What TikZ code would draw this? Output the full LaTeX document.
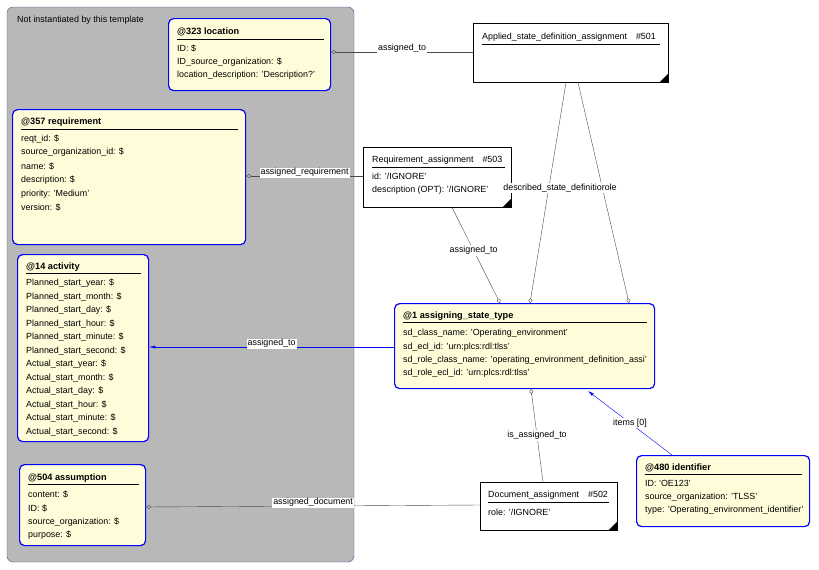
\documentclass[tikz,border=0pt]{standalone}
\usepackage{fontspec}
\setmainfont{Liberation Sans}
\usetikzlibrary{arrows.meta}
\tikzset{
  box/.style={draw=blue, line width=1.2pt, fill=yellow!15, rounded corners=5pt, anchor=north west, inner sep=0pt},
  plain/.style={draw=black, fill=white, anchor=north west, inner sep=0pt},
  txt/.style={anchor=west, inner sep=0pt, font=\fontsize{8.9}{10}\selectfont},
  ttl/.style={txt, font=\fontsize{9.2}{10}\selectfont\bfseries},
  lbl/.style={fill=white, inner sep=1pt, font=\fontsize{8.9}{10}\selectfont},
  link/.style={draw=black!70, {Diamond[open,length=5pt,width=4pt]}-},
  blink/.style={draw=blue, -{Latex[length=6pt,width=3pt]}},
}
\newcommand{\corner}[1]{\fill (#1.south east) -- ++(-9pt,0) -- ++(9pt,9pt) -- cycle;}
\begin{document}
\begin{tikzpicture}[x=1pt,y=-1pt]
\useasboundingbox (0,0) rectangle (819,570);
% panel
\draw[fill=black!28, draw=blue!40!black!70, rounded corners=6pt] (7,7) rectangle (354,562);
\node[txt] at (17,20) {Not instantiated by this template};

% entities
\node[box, minimum width=162pt, minimum height=72pt] (loc) at (168,18) {};
\node[ttl] at (177,32) {@323 location};
\draw (177,39) -- (324,39);
\foreach \t [count=\i] in {ID: \$, ID\_source\_organization: \$, location\_description: 'Description?'}
  \node[txt] at (177,35+13.5*\i) {\t};

\node[box, minimum width=233pt, minimum height=135pt] (req) at (12,109) {};
\node[ttl] at (21,122) {@357 requirement};
\draw (21,129) -- (238,129);
\foreach \t [count=\i] in {reqt\_id: \$, source\_organization\_id: \$, name: \$, description: \$, priority: 'Medium', version: \$}
  \node[txt] at (21,125+13.8*\i) {\t};

\node[box, minimum width=131pt, minimum height=187pt] (act) at (17,254) {};
\node[ttl] at (26,267) {@14 activity};
\draw (26,273) -- (141,273);
\foreach \t [count=\i] in {Planned\_start\_year: \$, Planned\_start\_month: \$, Planned\_start\_day: \$, Planned\_start\_hour: \$, Planned\_start\_minute: \$, Planned\_start\_second: \$, Actual\_start\_year: \$, Actual\_start\_month: \$, Actual\_start\_day: \$, Actual\_start\_hour: \$, Actual\_start\_minute: \$, Actual\_start\_second: \$}
  \node[txt] at (26,270+13.5*\i) {\t};

\node[box, minimum width=126pt, minimum height=81pt] (asm) at (19,464) {};
\node[ttl] at (28,478) {@504 assumption};
\draw (28,484) -- (139,484);
\foreach \t [count=\i] in {content: \$, ID: \$, source\_organization: \$, purpose: \$}
  \node[txt] at (28,481+13.6*\i) {\t};

\node[box, minimum width=260pt, minimum height=85pt] (ast) at (394,303) {};
\node[ttl] at (403,316) {@1 assigning\_state\_type};
\draw (403,322) -- (647,322);
\foreach \t [count=\i] in {sd\_class\_name: 'Operating\_environment', sd\_ecl\_id: 'urn:plcs:rdl:tlss', sd\_role\_class\_name: 'operating\_environment\_definition\_assi', sd\_role\_ecl\_id: 'urn:plcs:rdl:tlss'}
  \node[txt] at (403,320+13.4*\i) {\t};

\node[box, minimum width=173pt, minimum height=71pt] (idf) at (636,455) {};
\node[ttl] at (645,468) {@480 identifier};
\draw (645,474) -- (802,474);
\foreach \t [count=\i] in {ID: 'OE123', source\_organization: 'TLSS', type: 'Operating\_environment\_identifier'}
  \node[txt] at (645,470+13.5*\i) {\t};

% assignments
\node[plain, minimum width=195pt, minimum height=59pt] (asda) at (473,23) {};
\node[txt] at (482,37) {Applied\_state\_definition\_assignment\quad\#501};
\draw (482,44) -- (660,44);
\corner{asda}

\node[plain, minimum width=148pt, minimum height=60pt] (ra) at (363,147) {};
\node[txt] at (372,160) {Requirement\_assignment\quad\#503};
\draw (372,167) -- (505,167);
\node[txt] at (372,176) {id: '/IGNORE'};
\node[txt] at (372,190) {description (OPT): '/IGNORE'};
\corner{ra}

\node[plain, minimum width=137pt, minimum height=48pt] (da) at (480,482) {};
\node[txt] at (488,495) {Document\_assignment\quad\#502};
\draw (488,502) -- (609,502);
\node[txt] at (488,512) {role: '/IGNORE'};
\corner{da}

% connectors
\draw[link] (loc.east |- 0,52) -- node[lbl, above, yshift=-2pt] {assigned\_to} (asda.west |- 0,52);
\draw[link] (req.east |- 0,176) -- node[lbl, above, yshift=-2pt] {assigned\_requirement} (ra.west |- 0,176);
\draw[link] (asm.east |- 0,507) -- node[lbl, above, yshift=-2pt] {assigned\_document} (da.west |- 0,505);
\draw[link] (ast.north -| 500,0) -- node[lbl, pos=0.55] {assigned\_to} (ra.south -| 452,0);
\draw[link] (ast.north -| 530,0) -- (asda.south -| 566,0);
\draw[link] (ast.north -| 629,0) -- (asda.south -| 578,0);
\node[lbl] (dsd) at (560,188) {described\_state\_definitiorole};
\draw[link] (ast.south -| 531,0) -- node[lbl] {is\_assigned\_to} (da.north -| 543,0);
\draw[blink] (ast.west |- 0,347) -- node[lbl, above, yshift=-2pt] {assigned\_to} (act.east |- 0,347);
\draw[blink] (idf.north -| 672,0) -- node[lbl] {items [0]} (588,391);
\end{tikzpicture}
\end{document}
